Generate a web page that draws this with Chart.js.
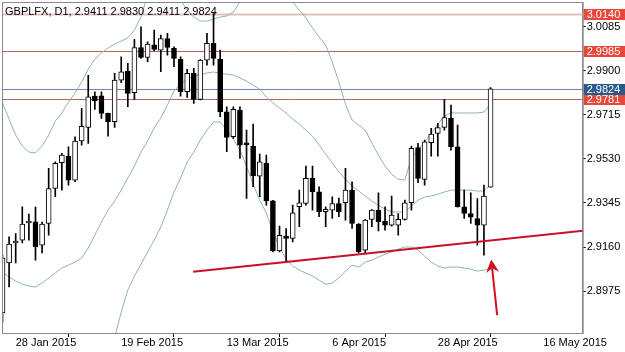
<!DOCTYPE html>
<html><head><meta charset="utf-8">
<script src="https://cdn.jsdelivr.net/npm/chart.js@4.4.1/dist/chart.umd.min.js"></script>
<style>html,body{margin:0;padding:0;background:#fff;overflow:hidden}#wrap{width:625px;height:352px;position:relative}canvas{display:block}</style>
</head><body><div id="wrap"><canvas id="c" width="625" height="352" style="width:625px;height:352px"></canvas></div>
<script>
const symbol = 'GBPLFX';
const timeframe = 'D1';
const dates = ['2015-01-26','2015-01-27','2015-01-28','2015-01-29','2015-01-30',
 '2015-02-02','2015-02-03','2015-02-04','2015-02-05','2015-02-06',
 '2015-02-09','2015-02-10','2015-02-11','2015-02-12','2015-02-13',
 '2015-02-16','2015-02-17','2015-02-18','2015-02-19','2015-02-20',
 '2015-02-23','2015-02-24','2015-02-25','2015-02-26','2015-02-27',
 '2015-03-02','2015-03-03','2015-03-04','2015-03-05','2015-03-06',
 '2015-03-09','2015-03-10','2015-03-11','2015-03-12','2015-03-13',
 '2015-03-16','2015-03-17','2015-03-18','2015-03-19','2015-03-20',
 '2015-03-23','2015-03-24','2015-03-25','2015-03-26','2015-03-27',
 '2015-03-30','2015-03-31','2015-04-01','2015-04-02','2015-04-03',
 '2015-04-06','2015-04-07','2015-04-08','2015-04-09','2015-04-10',
 '2015-04-13','2015-04-14','2015-04-15','2015-04-16','2015-04-17',
 '2015-04-20','2015-04-21','2015-04-22','2015-04-23','2015-04-24',
 '2015-04-27','2015-04-28','2015-04-29','2015-04-30','2015-05-01',
 '2015-05-04','2015-05-05','2015-05-06','2015-05-07','2015-05-08'];
const open = [2.8883,2.9093,2.9177,2.9189,2.9261,2.9266,2.9168,2.9259,2.9406,2.9514,
 2.9542,2.9441,2.9606,2.9662,2.9794,2.9795,2.9721,2.9686,2.9861,2.9899,
 2.9808,2.9998,2.9956,3.0009,2.9987,3.0035,2.9994,2.9948,2.9812,2.9889,
 2.9780,2.9945,3.0015,2.9948,2.9728,2.9623,2.9735,2.9592,2.9584,2.9458,
 2.9511,2.9354,2.9144,2.9206,2.9196,2.9329,2.9343,2.9448,2.9392,2.9308,
 2.9315,2.9343,2.9346,2.9399,2.9256,2.9147,2.9276,2.9315,2.9269,2.9252,
 2.9252,2.9276,2.9346,2.9578,2.9444,2.9598,2.9637,2.9662,2.9700,2.9581,
 2.9329,2.9301,2.9280,2.9252,2.9411];
const high = [2.9126,2.9203,2.9217,2.9329,2.9298,2.9328,2.9265,2.9490,2.9518,2.9553,
 2.9581,2.9623,2.9742,2.9881,2.9812,2.9812,2.9723,2.9889,2.9959,2.9931,
 3.0032,3.0085,3.0022,3.0071,3.0050,3.0057,3.0001,2.9959,2.9906,2.9910,
 2.9947,3.0057,3.0140,2.9987,2.9749,2.9749,2.9749,2.9651,2.9676,2.9550,
 2.9546,2.9356,2.9248,2.9238,2.9336,2.9399,2.9500,2.9500,2.9413,2.9329,
 2.9371,2.9366,2.9490,2.9434,2.9258,2.9275,2.9317,2.9388,2.9329,2.9374,
 2.9301,2.9357,2.9584,2.9595,2.9609,2.9658,2.9679,2.9780,2.9756,2.9672,
 2.9399,2.9388,2.9364,2.9420,2.9830];
const low = [2.8845,2.8992,2.9093,2.9177,2.9189,2.9105,2.9135,2.9210,2.9371,2.9399,
 2.9420,2.9434,2.9588,2.9595,2.9738,2.9700,2.9626,2.9662,2.9850,2.9749,
 2.9780,2.9952,2.9938,2.9984,2.9896,2.9966,2.9917,2.9794,2.9788,2.9763,
 2.9778,2.9924,2.9924,2.9707,2.9560,2.9616,2.9532,2.9364,2.9413,2.9371,
 2.9336,2.9139,2.9139,2.9097,2.9182,2.9245,2.9336,2.9315,2.9287,2.9245,
 2.9280,2.9287,2.9273,2.9238,2.9136,2.9132,2.9245,2.9228,2.9231,2.9248,
 2.9210,2.9273,2.9315,2.9430,2.9420,2.9542,2.9542,2.9651,2.9567,2.9327,
 2.9280,2.9259,2.9168,2.9126,2.9411];
const close = [2.9114,2.9172,2.9185,2.9256,2.9269,2.9160,2.9256,2.9406,2.9511,2.9546,
 2.9441,2.9605,2.9667,2.9791,2.9774,2.9721,2.9686,2.9861,2.9896,2.9805,
 2.9998,2.9956,3.0012,2.9990,3.0035,2.9998,2.9952,2.9812,2.9889,2.9780,
 2.9945,3.0015,2.9952,2.9728,2.9620,2.9738,2.9588,2.9589,2.9459,2.9518,
 2.9354,2.9144,2.9209,2.9196,2.9304,2.9346,2.9448,2.9392,2.9308,2.9318,
 2.9343,2.9308,2.9399,2.9259,2.9140,2.9273,2.9315,2.9266,2.9252,2.9294,
 2.9276,2.9346,2.9574,2.9448,2.9602,2.9634,2.9662,2.9704,2.9581,2.9329,
 2.9301,2.9285,2.9252,2.9374,2.9824];
const upperBand = [2.9765,2.9697,2.9630,2.9584,2.9559,2.9555,2.9584,2.9630,2.9689,2.9723,
 2.9769,2.9807,2.9853,2.9907,2.9949,2.9975,2.9996,3.0012,3.0025,3.0038,
 3.0071,3.0126,3.0218,3.0239,3.0248,3.0239,3.0218,3.0197,3.0155,3.0126,
 3.0109,3.0109,3.0117,3.0126,3.0130,3.0147,3.0189,3.0231,3.0248,3.0248,
 3.0239,3.0231,3.0214,3.0201,3.0189,3.0155,3.0122,3.0080,3.0042,3.0008,
 2.9937,2.9853,2.9760,2.9693,2.9672,2.9651,2.9597,2.9546,2.9500,2.9466,
 2.9445,2.9441,2.9534,2.9567,2.9601,2.9639,2.9676,2.9710,2.9723,2.9723,
 2.9723,2.9723,2.9723,2.9727,2.9760];
const middleBand = [2.9055,2.9034,2.9017,2.9004,2.8996,2.8992,2.9009,2.9030,2.9051,2.9072,
 2.9084,2.9097,2.9114,2.9156,2.9210,2.9265,2.9315,2.9353,2.9399,2.9450,
 2.9500,2.9559,2.9605,2.9660,2.9702,2.9756,2.9815,2.9844,2.9865,2.9878,
 2.9882,2.9891,2.9895,2.9891,2.9886,2.9882,2.9870,2.9857,2.9840,2.9823,
 2.9790,2.9765,2.9744,2.9723,2.9697,2.9676,2.9651,2.9626,2.9588,2.9550,
 2.9513,2.9475,2.9445,2.9416,2.9395,2.9374,2.9353,2.9336,2.9319,2.9307,
 2.9307,2.9307,2.9332,2.9357,2.9370,2.9374,2.9382,2.9391,2.9399,2.9399,
 2.9399,2.9399,2.9395,2.9395,2.9424];
const lowerBand = [null,null,null,null,null,null,null,null,null,null,
 null,null,null,null,null,null,null,2.8778,2.8887,2.8979,
 2.9038,2.9088,2.9139,2.9189,2.9244,2.9315,2.9391,2.9450,2.9517,2.9559,
 2.9609,2.9651,2.9685,2.9685,2.9651,2.9613,2.9567,2.9500,2.9424,2.9357,
 2.9303,2.9223,2.9160,2.9109,2.9080,2.9063,2.9051,2.9038,2.9021,2.9004,
 2.9009,2.9030,2.9059,2.9084,2.9076,2.9097,2.9105,2.9118,2.9130,2.9139,
 2.9151,2.9160,2.9160,2.9147,2.9122,2.9097,2.9080,2.9072,2.9076,2.9076,
 2.9072,2.9067,2.9059,2.9063,2.9072];
const levels = [3.0140, 2.9985, 2.9781];
const bidPrice = 2.9824;
const yTicks = [2.8975, 2.9160, 2.9345, 2.9530, 2.9715, 2.9900, 3.0085];
const xTickIdx = [2, 18, 34, 50, 66, 82];
const xTickLabels = ['28 Jan 2015','19 Feb 2015','13 Mar 2015','6 Apr 2015','28 Apr 2015','16 May 2015'];
const trendIdx = [28.9, 88.5];
const trendPrice = [2.9056, 2.9230];
const arrowIdx = [75.0, 74.1];
const arrowPrice = [2.8874, 2.9108];

Chart.defaults.font.family = '"Liberation Sans", Arial, sans-serif';
Chart.defaults.font.size = 11;
Chart.defaults.color = '#000';

const idx = dates.map((d, i) => i);
const last = dates.length - 1;
const wickData = idx.map(i => ({x: i, y: [low[i], high[i]]}));
const upData = idx.filter(i => close[i] >= open[i]).map(i => ({x: i, y: [open[i], close[i]]}));
const downData = idx.filter(i => close[i] < open[i]).map(i => ({x: i, y: [close[i], open[i]]}));
const band = arr => idx.map(i => ({x: i, y: arr[i]}));
const bandStyle = {type: 'line', borderColor: '#93b5a8', borderWidth: 1, pointRadius: 0, tension: 0, order: 3, spanGaps: false};
const noPad = s => { s.paddingTop = 0; s.paddingBottom = 0; s.paddingLeft = 0; s.paddingRight = 0; };

const decor = {
  id: 'decor',
  beforeDatasetsDraw(chart) {
    const {ctx, chartArea: a, scales: {y}} = chart;
    ctx.save();
    ctx.beginPath(); ctx.rect(a.left, a.top, a.right - a.left, a.bottom - a.top); ctx.clip();
    const st = [{c: '#dfc4bc', w: 2}, {c: '#a8685c', w: 1}, {c: '#a8685c', w: 1}];
    levels.forEach((v, k) => {
      const py = Math.round(y.getPixelForValue(v)) + 0.5;
      ctx.strokeStyle = st[k].c; ctx.lineWidth = st[k].w;
      ctx.beginPath(); ctx.moveTo(a.left, py); ctx.lineTo(a.right, py); ctx.stroke();
    });
    const pb = Math.round(y.getPixelForValue(bidPrice)) + 0.5;
    ctx.strokeStyle = '#6f86ae'; ctx.lineWidth = 1;
    ctx.beginPath(); ctx.moveTo(a.left, pb); ctx.lineTo(a.right, pb); ctx.stroke();
    ctx.restore();
  },
  afterDraw(chart) {
    const {ctx, chartArea: a, scales: {x, y}} = chart;
    ctx.save();
    ctx.strokeStyle = '#8a8a8a'; ctx.lineWidth = 1;
    ctx.strokeRect(a.left + 0.5, a.top + 0.5, a.right - a.left, a.bottom - a.top);
    ctx.fillStyle = '#000';
    ctx.font = '11px "Liberation Sans", Arial, sans-serif';
    ctx.textBaseline = 'alphabetic'; ctx.textAlign = 'left';
    ctx.fillText(`${symbol}, ${timeframe}, ${open[last].toFixed(4)} ${high[last].toFixed(4)} ${low[last].toFixed(4)} ${close[last].toFixed(4)}`, 5, 15);
    const tag = (v, col) => {
      const py = y.getPixelForValue(v);
      ctx.fillStyle = col;
      ctx.fillRect(a.right + 1, Math.round(py) - 5, 625 - a.right, 11);
      ctx.fillStyle = '#fff';
      ctx.textBaseline = 'middle';
      ctx.fillText(v.toFixed(4), a.right + 4, Math.round(py) + 0.5);
    };
    levels.forEach(v => tag(v, '#e8483a'));
    tag(bidPrice, '#2a5a8a');
    const x0 = x.getPixelForValue(arrowIdx[0]), y0 = y.getPixelForValue(arrowPrice[0]);
    const x1 = x.getPixelForValue(arrowIdx[1]), y1 = y.getPixelForValue(arrowPrice[1]);
    const ang = Math.atan2(y1 - y0, x1 - x0);
    const hl = 13, hw = 6.5, notch = 9;
    const cs = Math.cos(ang), sn = Math.sin(ang);
    ctx.strokeStyle = '#d4101e'; ctx.fillStyle = '#d4101e'; ctx.lineWidth = 2;
    ctx.beginPath(); ctx.moveTo(x0, y0); ctx.lineTo(x1 - notch * cs, y1 - notch * sn); ctx.stroke();
    const bx = x1 - hl * cs, by = y1 - hl * sn;
    ctx.beginPath();
    ctx.moveTo(x1, y1);
    ctx.lineTo(bx - hw * sn, by + hw * cs);
    ctx.lineTo(x1 - notch * cs, y1 - notch * sn);
    ctx.lineTo(bx + hw * sn, by - hw * cs);
    ctx.closePath(); ctx.fill();
    ctx.restore();
  }
};

new Chart(document.getElementById('c'), {
  type: 'bar',
  data: {
    datasets: [
      {type: 'line', data: trendIdx.map((v, k) => ({x: v, y: trendPrice[k]})), borderColor: '#c8102a', borderWidth: 2, pointRadius: 0, order: 0},
      {data: upData, backgroundColor: '#fff', borderColor: '#000', borderWidth: 1, borderSkipped: false, barThickness: 5, grouped: false, minBarLength: 2, order: 1},
      {data: downData, backgroundColor: '#000', borderColor: '#000', borderWidth: 1, borderSkipped: false, barThickness: 5, grouped: false, minBarLength: 2, order: 1},
      {data: wickData, backgroundColor: '#000', borderWidth: 0, barThickness: 1, grouped: false, order: 2},
      Object.assign({data: band(upperBand)}, bandStyle),
      Object.assign({data: band(middleBand)}, bandStyle),
      Object.assign({data: band(lowerBand)}, bandStyle)
    ]
  },
  options: {
    responsive: false,
    devicePixelRatio: 1,
    animation: false,
    events: [],
    layout: {padding: {left: 2, top: 2, right: 0, bottom: 0}},
    plugins: {legend: {display: false}, tooltip: {enabled: false}, title: {display: false}},
    scales: {
      x: {
        type: 'linear', min: -0.077, max: 87.97, offset: false,
        afterBuildTicks: s => { s.ticks = xTickIdx.map(v => ({value: v})); },
        afterFit: s => { s.height = 19; noPad(s); },
        grid: {drawOnChartArea: false, drawTicks: true, tickLength: 4, tickColor: '#000'},
        border: {display: true, color: '#8a8a8a'},
        ticks: {align: 'start', padding: -1, autoSkip: false, maxRotation: 0, color: '#000',
          font: {size: 11},
          callback: v => { const k = xTickIdx.indexOf(v); return k >= 0 ? xTickLabels[k] : ''; }}
      },
      y: {
        position: 'right', min: 2.8799, max: 3.0189,
        afterBuildTicks: s => { s.ticks = yTicks.map(v => ({value: v})); },
        afterFit: s => { s.width = 42.3; noPad(s); },
        grid: {drawOnChartArea: false, drawTicks: true, tickLength: 3, tickColor: '#000'},
        border: {display: true, color: '#8a8a8a'},
        ticks: {padding: 1, autoSkip: false, color: '#000', font: {size: 11},
          callback: v => Number(v).toFixed(4)}
      }
    }
  },
  plugins: [decor]
});
</script>
</body></html>
